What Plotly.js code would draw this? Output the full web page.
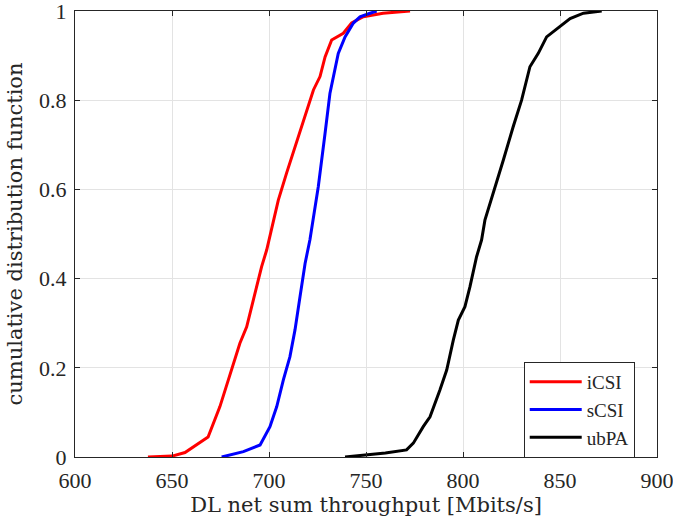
<!DOCTYPE html>
<html><head><meta charset="utf-8">
<script src="https://cdn.plot.ly/plotly-3.0.1.min.js"></script>
<style>html,body{margin:0;padding:0;background:#fff}#chart{width:673px;height:521px}</style>
</head><body><div id="chart"></div>
<script>
const iCSI_x = [637.6,650,656.7,662,668.6,674.7,680,685,688.5,691.9,694.5,696.2,698.8,700.1,704.8,709.1,713.4,717.7,722.9,726.3,728.9,732.3,738.3,742.6,748.6,758.8,772.7];
const iCSI_y = [0,0.002,0.01,0.025,0.045,0.113,0.188,0.255,0.292,0.352,0.397,0.427,0.464,0.487,0.576,0.637,0.696,0.756,0.823,0.853,0.897,0.935,0.95,0.973,0.987,0.995,1.0];
const sCSI_x = [675.6,686.8,695.4,700.5,704,707.4,710.8,713.4,716,718.6,721.1,722.9,725.4,728.9,731.4,735.7,739.2,743.5,746.9,752.1,755.5];
const sCSI_y = [0,0.012,0.027,0.068,0.113,0.173,0.225,0.285,0.36,0.434,0.487,0.539,0.606,0.726,0.815,0.905,0.942,0.973,0.987,0.995,1.0];
const ubPA_x = [739.2,748.6,760,770.9,774.4,779.5,783,788.1,791.6,795,797.6,801,803.6,807,809.6,811.3,815.6,820.8,825.9,830.2,834.5,838.8,843.1,850,855.2,862.1,871.5];
const ubPA_y = [0,0.004,0.009,0.016,0.031,0.068,0.09,0.15,0.195,0.262,0.307,0.337,0.382,0.449,0.487,0.531,0.591,0.666,0.741,0.8,0.875,0.905,0.942,0.965,0.983,0.995,1.0];
const xTicks = [600,650,700,750,800,850,900];
const yTicks = [0,0.2,0.4,0.6,0.8,1];

const tickFont = 'Liberation Serif, serif';
const titleFont = 'DejaVu Serif, serif';
const traces = [
  {x:iCSI_x, y:iCSI_y, name:'iCSI', mode:'lines', line:{color:'#ff0000', width:3}},
  {x:sCSI_x, y:sCSI_y, name:'sCSI', mode:'lines', line:{color:'#0000ff', width:3}},
  {x:ubPA_x, y:ubPA_y, name:'ubPA', mode:'lines', line:{color:'#000000', width:3}}
];
const axisCommon = {
  showline:true, linecolor:'#262626', linewidth:1, mirror:'ticks',
  ticks:'inside', ticklen:5, tickcolor:'#262626',
  showgrid:true, gridcolor:'#e3e3e3', gridwidth:1, zeroline:false,
  ticklabeloverflow:'allow',
  tickfont:{family:tickFont, size:22, color:'#262626'}
};
const layout = {
  width:673, height:521,
  margin:{l:75, r:16, t:11, b:64},
  paper_bgcolor:'#fff', plot_bgcolor:'#fff',
  showlegend:true,
  xaxis:Object.assign({}, axisCommon, {range:[600,900], tickvals:xTicks, ticktext:xTicks.map(String), ticklabelstandoff:4,
    title:{text:'DL net sum throughput [Mbits/s]', font:{family:titleFont, size:21, color:'#262626'}, standoff:4}}),
  yaxis:Object.assign({}, axisCommon, {range:[0,1], tickvals:yTicks, ticktext:yTicks.map(String), ticklabelstandoff:3,
    title:{text:'cumulative distribution function', font:{family:titleFont, size:21, color:'#262626'}, standoff:10}}),
  legend:{x:0.771, y:0.213, xanchor:'left', yanchor:'top', bgcolor:'#fff', bordercolor:'#262626', borderwidth:1,
    font:{family:tickFont, size:19, color:'#262626'}, tracegroupgap:0, itemwidth:52}
};
Plotly.newPlot('chart', traces, layout, {displayModeBar:false, staticPlot:true});
</script></body></html>
